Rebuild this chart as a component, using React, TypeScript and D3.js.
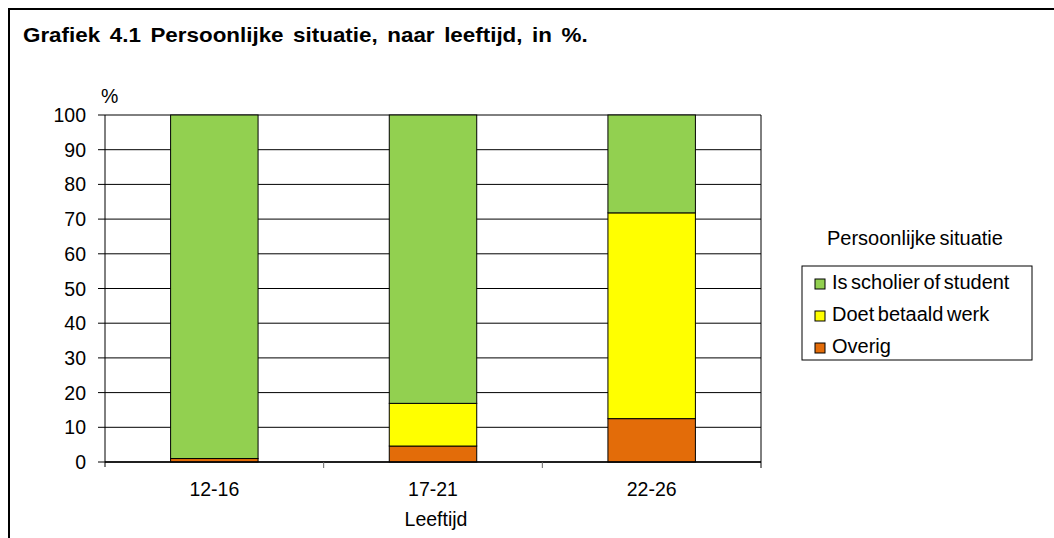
import * as d3 from 'd3';

// age groups on the x axis
const categories = ['12-16', '17-21', '22-26'];
// percentages per series
const scholier = [99.0, 83.1, 28.2];
const werk = [0.0, 12.3, 59.3];
const overig = [1.0, 4.6, 12.5];
const yTicks = [0, 10, 20, 30, 40, 50, 60, 70, 80, 90, 100];

const seriesNames = ['Is scholier of student', 'Doet betaald werk', 'Overig'];
const colors: Record<string, string> = {
  'Is scholier of student': '#92D050',
  'Doet betaald werk': '#FFFF00',
  Overig: '#E36C09',
};

const [width, height] = [1054, 538];
const plot = { left: 105, right: 761, top: 115, bottom: 462 };
const font = '"Liberation Sans", Arial, sans-serif';
const fs = 19.5;

const xScale = d3.scaleBand().domain(categories).range([plot.left, plot.right]).paddingInner(0).paddingOuter(0);
const yScale = d3.scaleLinear().domain([0, 100]).range([plot.bottom, plot.top]);

export default function App() {
  const rows = categories.map((c, i) => ({
    cat: c,
    'Is scholier of student': scholier[i],
    'Doet betaald werk': werk[i],
    Overig: overig[i],
  }));
  // stacked bottom-up: Overig, werk, scholier
  const stack = d3.stack<any>().keys(['Overig', 'Doet betaald werk', 'Is scholier of student'])(rows);
  const barW = xScale.bandwidth() * 0.4;

  return (
    <svg width={width} height={height} style={{ position: 'absolute', left: 0, top: 0, background: '#fff' }} fontFamily={font}>
      <rect x={9} y={9} width={width + 20} height={height + 20} fill="#fff" stroke="#000" strokeWidth={2} />
      <text transform="translate(23,42) scale(1.12,1)" fontSize={20} fontWeight="bold" wordSpacing={3}>
        Grafiek 4.1 Persoonlijke situatie, naar leeftijd, in %.
      </text>

      {/* gridlines */}
      {yTicks.map((t) => (
        <g key={t}>
          <line x1={plot.left - 7} x2={plot.right} y1={yScale(t)} y2={yScale(t)} stroke="#000" strokeWidth={1} />
          <text x={86} y={yScale(t) + 7} fontSize={fs} textAnchor="end">{t}</text>
        </g>
      ))}
      <text x={101} y={103} fontSize={fs}>%</text>

      {/* bars */}
      {stack.map((s) => (
        <g key={s.key}>
          {s.map((d, i) => (
            <rect
              key={i}
              x={(xScale(categories[i]) as number) + (xScale.bandwidth() - barW) / 2}
              y={yScale(d[1])}
              width={barW}
              height={Math.max(0, yScale(d[0]) - yScale(d[1]))}
              fill={colors[s.key]}
              stroke="#000"
              strokeWidth={1}
            />
          ))}
        </g>
      ))}

      {/* axes */}
      <line x1={plot.left} x2={plot.left} y1={plot.top} y2={plot.bottom + 5} stroke="#000" />
      <line x1={plot.right} x2={plot.right} y1={plot.top} y2={plot.bottom + 6} stroke="#000" />
      <line x1={plot.left} x2={plot.right} y1={plot.bottom} y2={plot.bottom} stroke="#000" strokeWidth={1.5} />
      {categories.slice(1).map((c) => (
        <line key={c} x1={xScale(c)} x2={xScale(c)} y1={plot.bottom} y2={plot.bottom + 6} stroke="#666" />
      ))}
      {categories.map((c) => (
        <text key={c} x={(xScale(c) as number) + xScale.bandwidth() / 2} y={496} fontSize={fs} textAnchor="middle">{c}</text>
      ))}
      <text x={(plot.left + plot.right) / 2 + 3} y={526} fontSize={fs} textAnchor="middle">Leeftijd</text>

      {/* legend */}
      <text x={827} y={245} fontSize={20} wordSpacing={-2}>Persoonlijke situatie</text>
      <rect x={802} y={266} width={230} height={94} fill="#fff" stroke="#000" strokeWidth={1} />
      {seriesNames.map((n, i) => (
        <g key={n}>
          <rect x={815} y={279 + i * 32} width={10} height={10} fill={colors[n]} stroke="#000" strokeWidth={1} />
          <text x={832} y={289 + i * 32} fontSize={20} wordSpacing={-2}>{n}</text>
        </g>
      ))}
    </svg>
  );
}
